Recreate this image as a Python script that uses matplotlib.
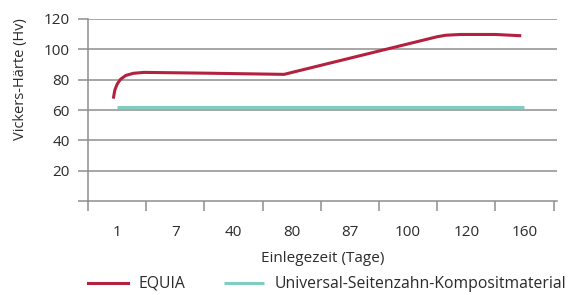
import matplotlib
matplotlib.use("Agg")
from matplotlib import pyplot as plt
import numpy as np

plt.rcParams['font.family'] = ['Open Sans', 'DejaVu Sans']

# Kategorien der x-Achse (Einlegezeit in Tagen)
days = ["1", "7", "40", "80", "87", "100", "120", "160"]

# EQUIA Verlauf, x als Position auf der Kategorienachse
equia_x = [-0.06, -0.04, 0.0, 0.06, 0.15, 0.28, 0.46, 1.5, 2.87, 5.5, 5.65, 5.9, 6.5, 6.92]
equia_y = [68.5, 73, 77, 80.3, 82.8, 84.2, 84.8, 84.3, 83.5, 108.3, 109.3, 109.8, 109.8, 109]

# Komposit, konstant
komposit_x = [0, 7.0]
komposit_y = [62, 62]

yticks = [0, 20, 40, 60, 80, 100, 120]

red = '#b3213f'
teal = '#7fcdc1'
grey = '#8e8e8e'
txt = '#2b2b2b'

fig = plt.figure(figsize=(5.7, 2.95), dpi=100)
ax = fig.add_axes([88/570, 1 - 201/295, (557-88)/570, (201-19)/295])

for y in yticks[1:]:
    ax.axhline(y, color=grey, lw=1.1, zorder=1)

ax.plot(komposit_x, komposit_y, color=teal, lw=2.2, label='Universal-Seitenzahn-Kompositmaterial',
        zorder=3, solid_capstyle='butt')
ax.plot(equia_x, equia_y, color=red, lw=2.2, label='EQUIA', zorder=4, solid_joinstyle='round')

ax.set_xlim(-0.5, 7.56)
ax.set_ylim(0, 120)
ax.set_yticks(yticks)
ax.set_yticklabels([''] + [str(v) for v in yticks[1:]])
ax.set_xticks(np.arange(len(days)))
ax.set_xticklabels(days)
ax.set_xticks(np.arange(-0.5, len(days)), minor=True)
ax.tick_params(axis='x', which='major', length=0, pad=17, labelsize=11, colors=txt)
ax.tick_params(axis='x', which='minor', length=7, width=1.1, color=grey, direction='out')
ax.tick_params(axis='y', length=7, width=1.1, color=grey, labelsize=11, labelcolor=txt, pad=6)

for s in ['top', 'right']:
    ax.spines[s].set_visible(False)
for s in ['left', 'bottom']:
    ax.spines[s].set_color(grey)
    ax.spines[s].set_linewidth(1.1)

ax.set_ylabel('Vickers-Härte (Hv)', fontsize=10.5, color=txt)
ax.yaxis.set_label_coords(-0.128, 0.67)
ax.set_xlabel('Einlegezeit (Tage)', fontsize=11, color=txt, labelpad=8)

h, l = ax.get_legend_handles_labels()
fig.legend(h[::-1], l[::-1], loc='center left', bbox_to_anchor=(88/570, 1 - 284/295),
           ncol=2, frameon=False, fontsize=11.3, handlelength=2.55, handletextpad=0.64,
           columnspacing=2.5, labelcolor=txt, borderaxespad=0, borderpad=0)

fig.savefig('out.png', dpi=100)
